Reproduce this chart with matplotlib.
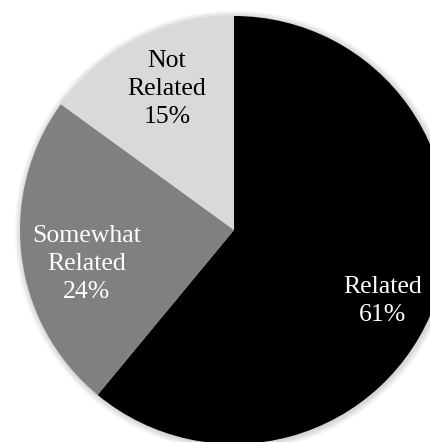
import matplotlib.pyplot as plt
import matplotlib.patches as mpatches

categories = ["Related", "Somewhat\nRelated", "Not\nRelated"]
shares = [61, 24, 15]
colors = ["#000000", "#808080", "#d9d9d9"]
text_colors = ["white", "white", "black"]
# label centres in pixels (x from left, y from top)
label_xy = [(383, 301), (87, 264), (167, 89)]

W, H = 431, 442
cx, cy, r = 234, 230, 214

fig = plt.figure(figsize=(W / 100, H / 100), dpi=100)
ax = fig.add_axes([0, 0, 1, 1])

# soft shadow around the pie
for i in range(8):
    ax.add_patch(mpatches.Circle((cx + 1, cy + 1), r + 1 + i * 0.8,
                                 color="black", alpha=0.02, lw=0, zorder=0))

# y axis is inverted, so counterclock=True here runs clockwise on screen
ax.pie(shares, colors=colors, startangle=-90, counterclock=True,
       center=(cx, cy), radius=r, frame=True,
       wedgeprops=dict(linewidth=0))
ax.set_xlim(0, W)
ax.set_ylim(H, 0)
ax.set_aspect("equal")
ax.axis("off")

for name, val, (x, y), c in zip(categories, shares, label_xy, text_colors):
    ax.text(x, y, f"{name}\n{val}%", ha="center", va="center", color=c,
            family="Liberation Serif", fontsize=18.5, linespacing=1.35)

fig.savefig("out.png", dpi=100)
